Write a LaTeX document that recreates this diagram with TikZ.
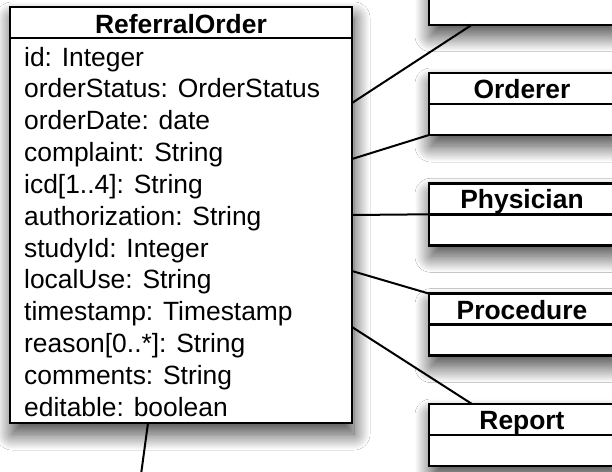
\documentclass[tikz,border=0pt]{standalone}
\usepackage{fontspec}
\setmainfont{Liberation Sans}
\usetikzlibrary{shadows.blur}
\begin{document}
\begin{tikzpicture}[x=1pt,y=-1pt,
  umlbox/.style={draw=black, line width=2.4pt, fill=white, rectangle, inner sep=0pt, outer sep=0pt,
    blur shadow={shadow xshift=2pt, shadow yshift=-11pt, shadow blur radius=16pt, shadow blur steps=40, shadow opacity=75}},
  attr/.style={anchor=base west, inner sep=0pt, font=\fontsize{26.4pt}{31.85pt}\selectfont},
  title/.style={anchor=base, inner sep=0pt, font=\fontsize{26.4pt}{31.85pt}\selectfont\bfseries},
  conn/.style={draw=black, line width=2pt},
  sep/.style={draw=black, line width=2.4pt}]
\useasboundingbox (0,0) rectangle (612,471);
\fill[white] (0,0) rectangle (612,471);
% ReferralOrder class
\node[umlbox, minimum width=342pt, minimum height=416pt] (ro) at (181,215) {};
\draw[sep] ([yshift=-31pt]ro.north west) -- ([yshift=-31pt]ro.north east);
\node[title] (rot) at (181,33) {ReferralOrder};
\foreach \t [count=\i from 0] in {id: Integer, orderStatus: OrderStatus, orderDate: date,
  complaint: String, {icd[1..4]: String}, authorization: String, studyId: Integer,
  localUse: String, timestamp: Timestamp, {reason[0..*]: String}, comments: String,
  editable: boolean}
  \node[attr] (a\i) at (24,66+\i*31.85) {\t};
% right-hand classes
\foreach \n/\top/\lab in {c0/-37.3/{}, c1/73/Orderer, c2/183.3/Physician, c3/293.6/Procedure, c4/404/Report}{
  \node[umlbox, minimum width=187pt, minimum height=62pt] (\n) at (522.5,\top+31) {};
  \draw[sep] (\n.west) -- (\n.east);
  \node[title] (\n t) at (522,\top+25.5) {\lab};
}
% connectors
\draw[conn] ([yshift=-96pt]ro.north east) -- ([xshift=43pt]c0.south west);
\draw[conn] ([yshift=-152pt]ro.north east) -- (c1.south west);
\draw[conn] ([yshift=-208pt]ro.north east) -- (c2.west);
\draw[conn] ([yshift=-264pt]ro.north east) -- (c3.north west);
\draw[conn] ([yshift=-320pt]ro.north east) -- ([xshift=43pt]c4.north west);
\coordinate (tail) at (140,482);
\draw[conn] ([xshift=138pt]ro.south west) -- (tail);
\end{tikzpicture}
\end{document}
